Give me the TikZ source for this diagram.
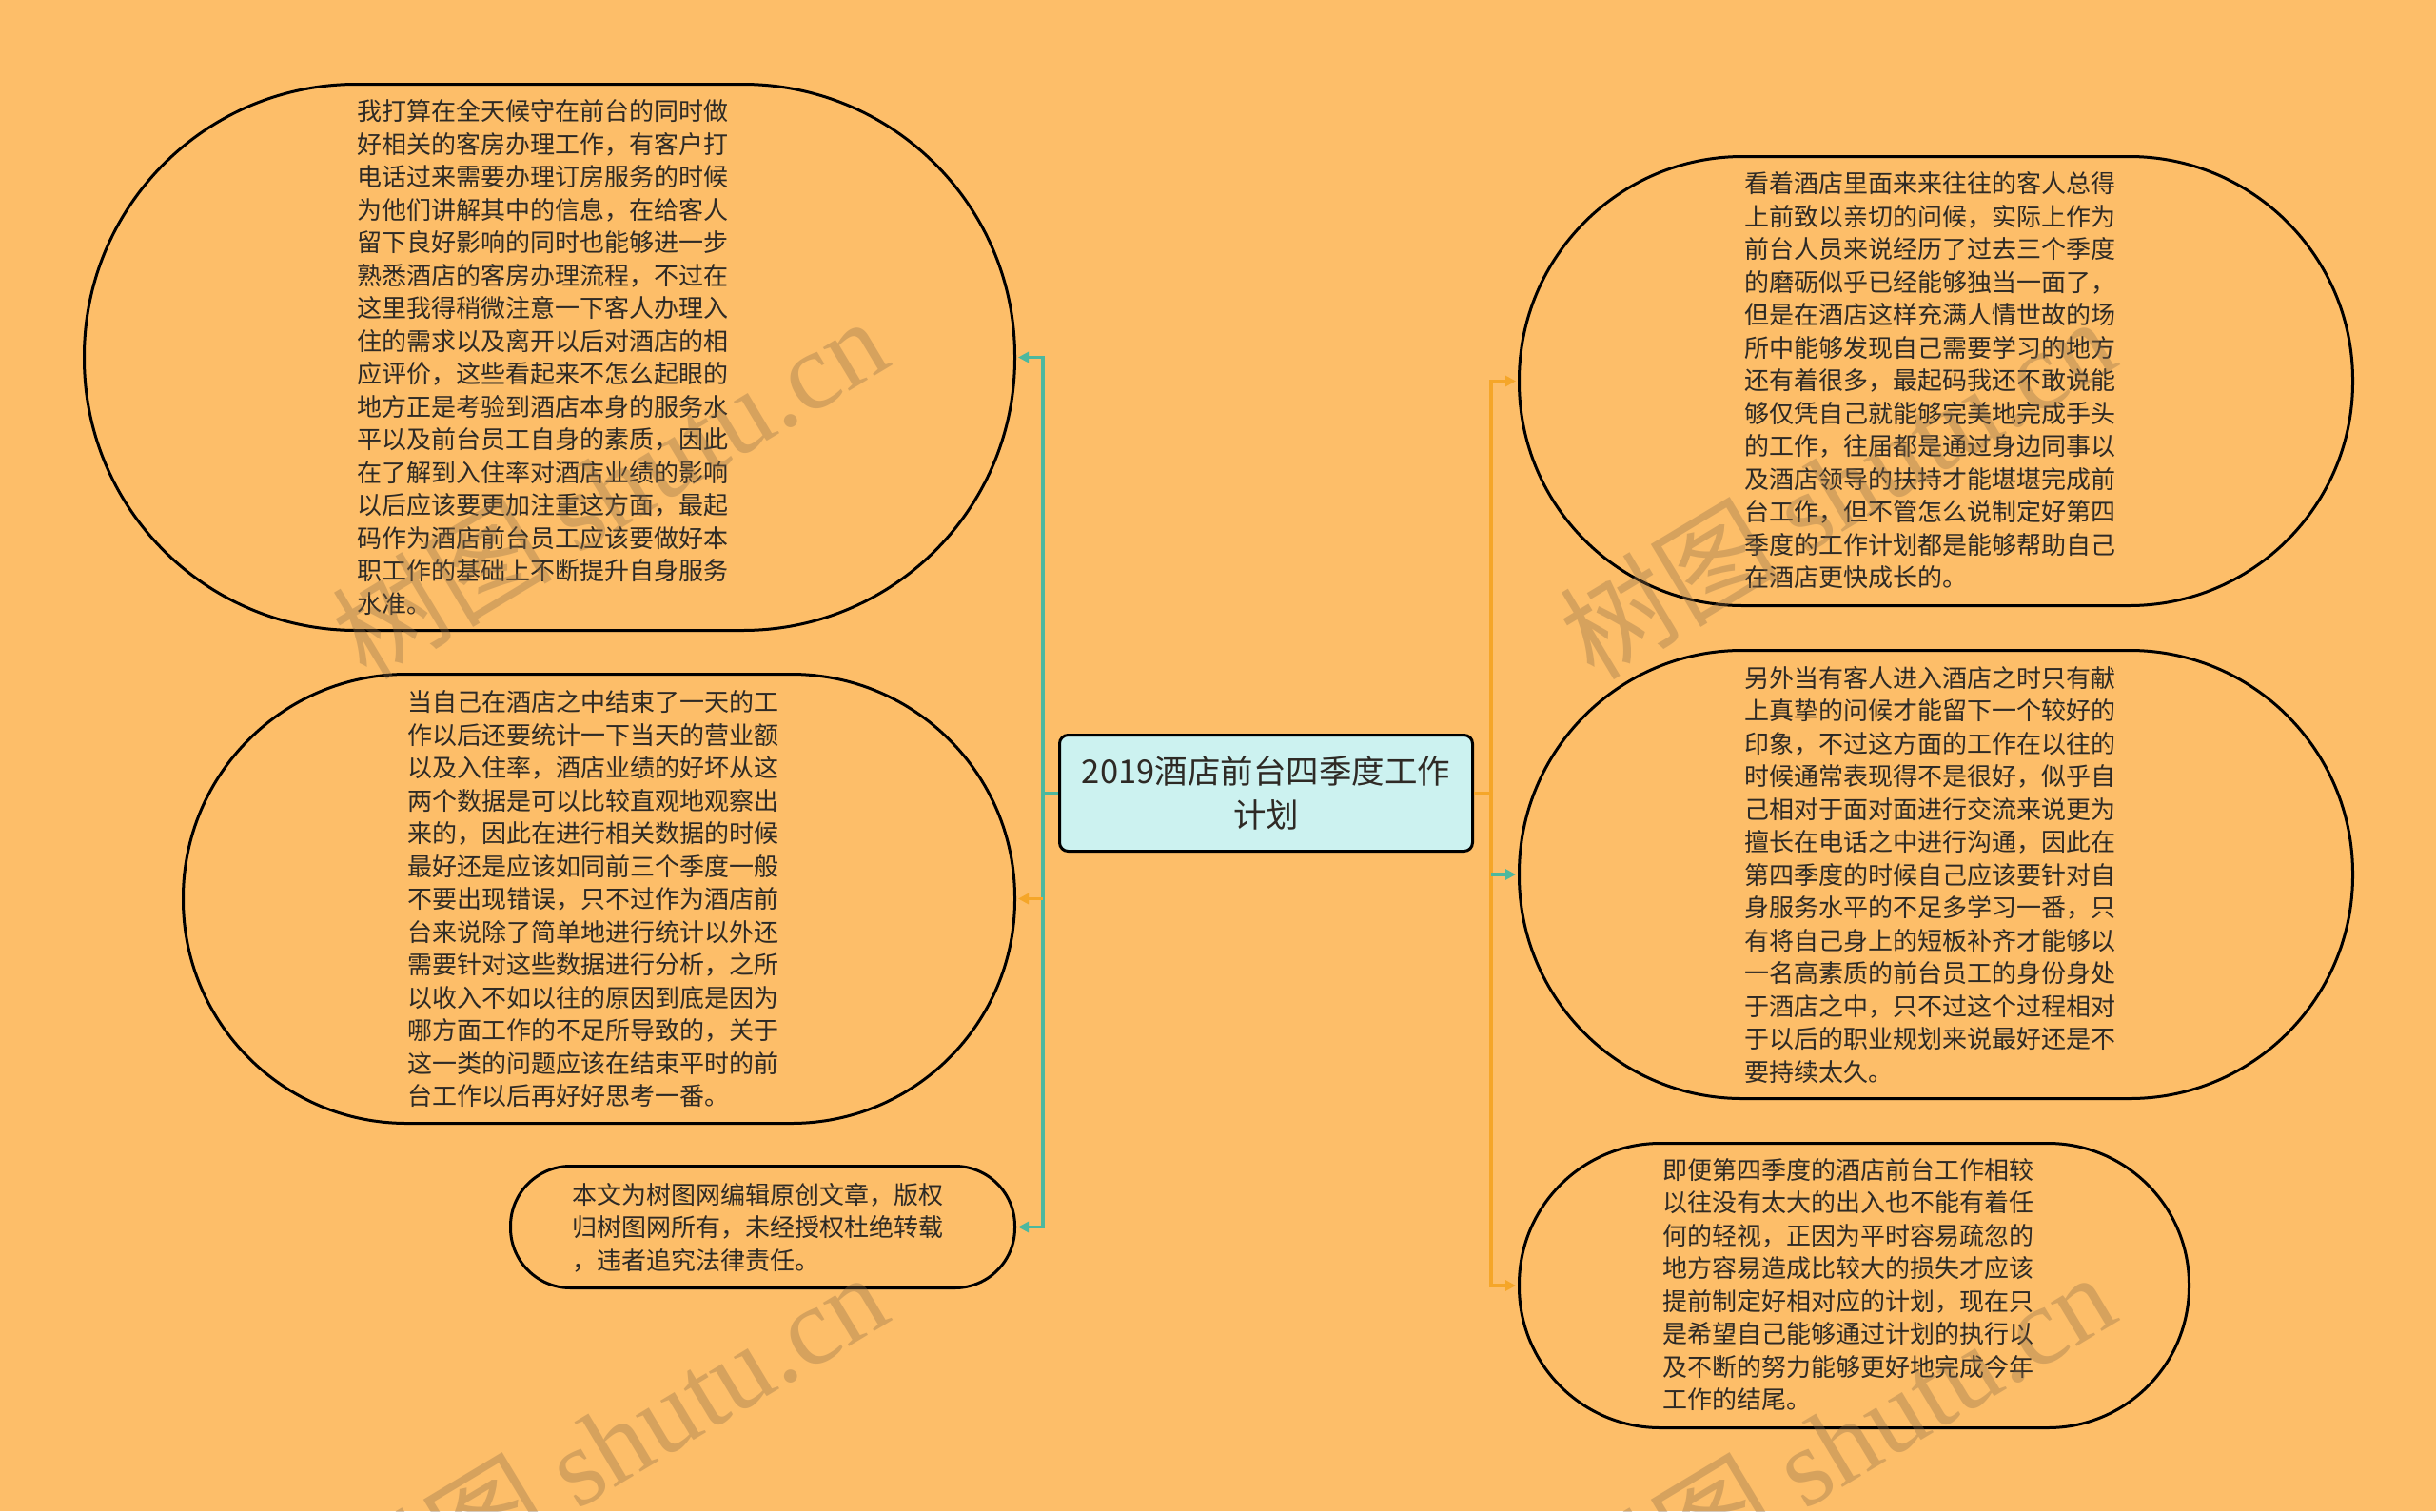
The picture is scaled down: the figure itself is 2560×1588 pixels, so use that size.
\documentclass[tikz,border=0pt]{standalone}
\usepackage{fontspec}
\setmainfont{Noto Sans CJK SC}
\newfontfamily\wmlatin{Liberation Serif}
\usetikzlibrary{arrows.meta}
\definecolor{bgc}{HTML}{FDBE69}
\definecolor{nodefill}{HTML}{CCF2F0}
\definecolor{tealc}{HTML}{4DB89E}
\definecolor{orangec}{HTML}{F5A629}
\definecolor{txt}{HTML}{2E2A25}
\definecolor{wm}{HTML}{8E6E48}
\begin{document}
\begin{tikzpicture}[x=1pt,y=-1pt,
  pill/.style={draw=black, line width=3pt, fill=bgc, rectangle, inner sep=0pt},
  tx/.style={anchor=west, align=left, inner sep=0pt, text=txt, font=\fontsize{26pt}{34.5pt}\selectfont},
  trunk/.style={draw=#1, line width=3.5pt},
  conn/.style={draw=#1, line width=3.5pt, -{Triangle[length=11pt,width=11pt]}, shorten >=2pt},
  wmk/.style={text=wm, opacity=0.35, font=\fontsize{116pt}{116pt}\selectfont, inner sep=0pt}
]
\fill[bgc] (0,0) rectangle (2560,1588);
\useasboundingbox (0,0) rectangle (2560,1588);

% pills
\node[pill, minimum width=978pt, minimum height=574pt, rounded corners=286pt] (L1) at (577.5,375.5) {};
\node[pill, minimum width=874pt, minimum height=472pt, rounded corners=235pt] (L2) at (629.5,944.5) {};
\node[pill, minimum width=530pt, minimum height=128pt, rounded corners=63pt] (L3) at (801.5,1289.5) {};
\node[pill, minimum width=876pt, minimum height=472pt, rounded corners=235pt] (R1) at (2034.5,400.5) {};
\node[pill, minimum width=876pt, minimum height=471pt, rounded corners=234.5pt] (R2) at (2034.5,919) {};
\node[pill, minimum width=704pt, minimum height=299pt, rounded corners=148.5pt] (R3) at (1948.5,1351) {};

% center
\node[draw=black, line width=3pt, fill=nodefill, rounded corners=9pt, minimum width=434pt, minimum height=122pt,
  align=center, text=txt, font=\fontsize{34.5pt}{45.5pt}\selectfont, inner sep=0pt] (C) at (1330.5,833.5)
  {2019酒店前台四季度工作\\计划};

% connectors
\coordinate (ltr) at (1096,833.5);
\coordinate (rtr) at (1567,833.5);
\draw[trunk=tealc] (C.west) -- (ltr);
\draw[conn=tealc] (ltr) |- (L1.east);
\draw[conn=tealc] (ltr) |- (L3.east);
\draw[conn=orangec] (ltr |- L2.east) -- (L2.east);
\draw[trunk=orangec] (C.east) -- (rtr);
\draw[conn=orangec] (rtr) |- (R1.west);
\draw[conn=orangec] (rtr) |- (R3.west);
\draw[conn=tealc] (rtr |- R2.west) -- (R2.west);

% texts
\node[tx] (L1t) at (375.5,375.6) {我打算在全天候守在前台的同时做\\好相关的客房办理工作，有客户打\\电话过来需要办理订房服务的时候\\为他们讲解其中的信息，在给客人\\留下良好影响的同时也能够进一步\\熟悉酒店的客房办理流程，不过在\\这里我得稍微注意一下客人办理入\\住的需求以及离开以后对酒店的相\\应评价，这些看起来不怎么起眼的\\地方正是考验到酒店本身的服务水\\平以及前台员工自身的素质，因此\\在了解到入住率对酒店业绩的影响\\以后应该要更加注重这方面，最起\\码作为酒店前台员工应该要做好本\\职工作的基础上不断提升自身服务\\水准。};
\node[tx] (L2t) at (428,945) {当自己在酒店之中结束了一天的工\\作以后还要统计一下当天的营业额\\以及入住率，酒店业绩的好坏从这\\两个数据是可以比较直观地观察出\\来的，因此在进行相关数据的时候\\最好还是应该如同前三个季度一般\\不要出现错误，只不过作为酒店前\\台来说除了简单地进行统计以外还\\需要针对这些数据进行分析，之所\\以收入不如以往的原因到底是因为\\哪方面工作的不足所导致的，关于\\这一类的问题应该在结束平时的前\\台工作以后再好好思考一番。};
\node[tx] (L3t) at (601,1290) {本文为树图网编辑原创文章，版权\\归树图网所有，未经授权杜绝转载\\，违者追究法律责任。};
\node[tx] (R1t) at (1833.5,399.7) {看着酒店里面来来往往的客人总得\\上前致以亲切的问候，实际上作为\\前台人员来说经历了过去三个季度\\的磨砺似乎已经能够独当一面了，\\但是在酒店这样充满人情世故的场\\所中能够发现自己需要学习的地方\\还有着很多，最起码我还不敢说能\\够仅凭自己就能够完美地完成手头\\的工作，往届都是通过身边同事以\\及酒店领导的扶持才能堪堪完成前\\台工作，但不管怎么说制定好第四\\季度的工作计划都是能够帮助自己\\在酒店更快成长的。};
\node[tx] (R2t) at (1833.5,919.3) {另外当有客人进入酒店之时只有献\\上真挚的问候才能留下一个较好的\\印象，不过这方面的工作在以往的\\时候通常表现得不是很好，似乎自\\己相对于面对面进行交流来说更为\\擅长在电话之中进行沟通，因此在\\第四季度的时候自己应该要针对自\\身服务水平的不足多学习一番，只\\有将自己身上的短板补齐才能够以\\一名高素质的前台员工的身份身处\\于酒店之中，只不过这个过程相对\\于以后的职业规划来说最好还是不\\要持续太久。};
\node[tx] (R3t) at (1747,1350) {即便第四季度的酒店前台工作相较\\以往没有太大的出入也不能有着任\\何的轻视，正因为平时容易疏忽的\\地方容易造成比较大的损失才应该\\提前制定好相对应的计划，现在只\\是希望自己能够通过计划的执行以\\及不断的努力能够更好地完成今年\\工作的结尾。};

% watermarks
\node[wmk, rotate=31] (w1) at (640,512) {树图 {\wmlatin shutu.cn}};
\node[wmk, rotate=31] (w2) at (1930,512) {树图 {\wmlatin shutu.cn}};
\node[wmk, rotate=31] (w3) at (640,1516) {树图 {\wmlatin shutu.cn}};
\node[wmk, rotate=31] (w4) at (1930,1516) {树图 {\wmlatin shutu.cn}};
\end{tikzpicture}
\end{document}
